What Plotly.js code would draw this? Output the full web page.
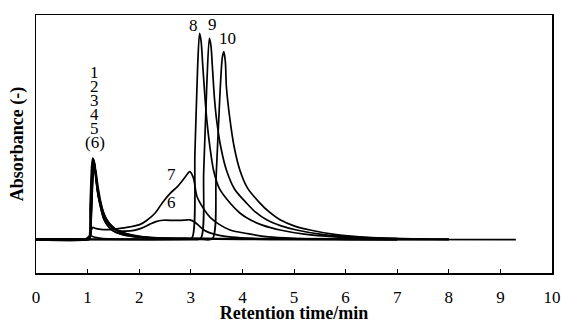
<!DOCTYPE html>
<html>
<head>
<meta charset="utf-8">
<script src="https://cdn.plot.ly/plotly-3.0.1.min.js"></script>
<style>html,body{margin:0;padding:0;background:#fff;}#chart{width:561px;height:323px;}</style>
</head>
<body>
<div id="chart"></div>
<script>
// Retention time (min) and absorbance (arbitrary, baseline = 0)
const x1 = [0, 0.95, 1.02, 1.05, 1.08, 1.10, 1.12, 1.15, 1.19, 1.24, 1.30, 1.36, 1.45, 1.55, 1.65, 1.8, 2.0, 2.3, 2.8, 4.0, 6.0, 9.3];
const y1 = [0, 0, 0.005, 0.18, 0.36, 0.395, 0.38, 0.32, 0.24, 0.18, 0.13, 0.10, 0.07, 0.05, 0.038, 0.026, 0.016, 0.009, 0.005, 0.003, 0.002, 0.001];
const x2 = [0, 0.95, 1.03, 1.06, 1.09, 1.11, 1.13, 1.16, 1.20, 1.25, 1.31, 1.37, 1.46, 1.56, 1.66, 1.8, 2.0, 2.3, 2.8, 4.0, 7.0];
const y2 = [0.003, 0.003, 0.006, 0.16, 0.35, 0.39, 0.375, 0.31, 0.23, 0.17, 0.12, 0.09, 0.063, 0.045, 0.033, 0.023, 0.015, 0.009, 0.006, 0.004, 0.003];
const x3 = [0, 0.95, 1.03, 1.06, 1.09, 1.11, 1.13, 1.16, 1.20, 1.25, 1.30, 1.36, 1.44, 1.54, 1.65, 1.8, 2.0, 2.3, 2.8, 4.0, 7.0];
const y3 = [0.005, 0.005, 0.007, 0.15, 0.34, 0.385, 0.37, 0.30, 0.22, 0.16, 0.11, 0.08, 0.055, 0.038, 0.028, 0.02, 0.013, 0.009, 0.007, 0.006, 0.005];
const x4 = [0, 0.95, 1.04, 1.07, 1.10, 1.12, 1.14, 1.17, 1.21, 1.26, 1.32, 1.38, 1.47, 1.57, 1.68, 1.85, 2.05, 2.4, 3.0, 4.5, 8.0];
const y4 = [0.001, 0.001, 0.004, 0.14, 0.33, 0.38, 0.365, 0.30, 0.23, 0.17, 0.125, 0.095, 0.068, 0.048, 0.036, 0.025, 0.016, 0.009, 0.005, 0.003, 0.001];
const x5 = [0, 0.95, 1.04, 1.07, 1.10, 1.12, 1.14, 1.17, 1.21, 1.26, 1.31, 1.37, 1.45, 1.55, 1.66, 1.8, 2.0, 2.3, 2.8, 4.0, 7.0];
const y5 = [0.004, 0.004, 0.006, 0.12, 0.31, 0.37, 0.355, 0.29, 0.21, 0.15, 0.105, 0.075, 0.052, 0.036, 0.027, 0.019, 0.013, 0.009, 0.007, 0.005, 0.004];
const x6 = [0, 0.95, 1.04, 1.07, 1.10, 1.13, 1.16, 1.20, 1.25, 1.31, 1.38, 1.47, 1.6, 1.75, 1.9, 2.05, 2.2, 2.31, 2.46, 2.7, 2.9, 2.98, 3.08, 3.18, 3.27, 3.37, 3.55, 3.8, 4.2, 5.0, 7.0];
const y6 = [0.002, 0.002, 0.005, 0.10, 0.28, 0.35, 0.33, 0.26, 0.19, 0.13, 0.09, 0.06, 0.045, 0.042, 0.046, 0.057, 0.075, 0.087, 0.095, 0.094, 0.096, 0.097, 0.085, 0.063, 0.045, 0.034, 0.022, 0.013, 0.007, 0.004, 0.002];
const x7 = [0, 0.95, 1.02, 1.06, 1.1, 1.15, 1.22, 1.3, 1.43, 1.63, 1.82, 2.02, 2.15, 2.31, 2.45, 2.6, 2.75, 2.88, 2.98, 3.05, 3.12, 3.25, 3.37, 3.55, 3.76, 4.1, 4.5, 5.0, 6.0, 7.0];
const y7 = [0, 0, 0.005, 0.04, 0.06, 0.056, 0.052, 0.05, 0.05, 0.056, 0.063, 0.075, 0.095, 0.13, 0.18, 0.225, 0.26, 0.30, 0.33, 0.30, 0.21, 0.15, 0.11, 0.075, 0.048, 0.03, 0.015, 0.008, 0.003, 0.001];
const x8 = [0, 0.95, 1.05, 1.15, 1.3, 2.9, 3.02, 3.08, 3.13, 3.17, 3.20, 3.23, 3.26, 3.31, 3.37, 3.44, 3.55, 3.76, 3.95, 4.15, 4.4, 4.73, 5.2, 5.8, 6.5, 8.0];
const y8 = [0.003, 0.003, 0.02, 0.012, 0.006, 0.006, 0.008, 0.42, 0.82, 0.998, 0.96, 0.85, 0.74, 0.58, 0.45, 0.338, 0.25, 0.178, 0.13, 0.097, 0.07, 0.048, 0.028, 0.015, 0.008, 0.003];
const x9 = [0, 3.0, 3.19, 3.25, 3.31, 3.36, 3.39, 3.42, 3.46, 3.50, 3.58, 3.69, 3.85, 4.08, 4.25, 4.47, 4.75, 5.05, 5.5, 6.2, 7.3, 8.0];
const y9 = [0.005, 0.005, 0.007, 0.33, 0.75, 0.974, 0.94, 0.83, 0.68, 0.58, 0.45, 0.338, 0.245, 0.178, 0.135, 0.097, 0.068, 0.048, 0.028, 0.013, 0.005, 0.004];
const x10 = [0, 3.2, 3.42, 3.49, 3.56, 3.61, 3.64, 3.67, 3.69, 3.76, 3.84, 3.95, 4.1, 4.34, 4.52, 4.73, 5.0, 5.31, 5.75, 6.4, 7.0];
const y10 = [0.002, 0.002, 0.006, 0.3, 0.68, 0.88, 0.91, 0.86, 0.74, 0.58, 0.45, 0.338, 0.25, 0.178, 0.135, 0.097, 0.068, 0.048, 0.028, 0.012, 0.006];

const xTicks = [0, 1, 2, 3, 4, 5, 6, 7, 8, 9, 10];
const peakLabels = ["1", "2", "3", "4", "5", "(6)", "7", "6", "8", "9", "10"];
const labelX = [1.14, 1.14, 1.14, 1.14, 1.14, 1.14, 2.63, 2.63, 3.06, 3.43, 3.72];
const labelY = [0.81, 0.74, 0.675, 0.605, 0.54, 0.47, 0.315, 0.18, 1.035, 1.04, 0.975];

const series = [[x1,y1],[x2,y2],[x3,y3],[x4,y4],[x5,y5],[x6,y6],[x7,y7],[x8,y8],[x9,y9],[x10,y10]];
const traces = series.map(s => ({
  x: s[0], y: s[1], type: 'scatter', mode: 'lines',
  line: {color: '#000', width: 1.7, shape: 'spline', smoothing: 0.8},
  hoverinfo: 'none', showlegend: false
}));

const font = {family: 'Liberation Serif, Times New Roman, serif', color: '#000'};
const annotations = peakLabels.map((t, i) => ({
  x: labelX[i], y: labelY[i], xref: 'x', yref: 'y', text: t, showarrow: false,
  font: Object.assign({}, font, {size: 17})
}));

Plotly.newPlot('chart', traces, {
  width: 561, height: 323,
  margin: {l: 36, r: 9, t: 15, b: 50},
  paper_bgcolor: '#fff', plot_bgcolor: '#fff',
  xaxis: {
    range: [0, 10], tickvals: xTicks, ticktext: xTicks.map(String),
    ticks: 'inside', ticklen: 4, tickwidth: 1, tickcolor: '#000',
    showline: true, linecolor: '#000', linewidth: 1.5, mirror: true,
    showgrid: false, zeroline: false, ticklabelstandoff: 8,
    tickfont: Object.assign({}, font, {size: 17}),
    title: {text: 'Retention time/min', standoff: 1, font: Object.assign({}, font, {size: 18, weight: 'bold'})}
  },
  yaxis: {
    range: [-0.16, 1.087], showticklabels: false, ticks: '',
    showline: true, linecolor: '#000', linewidth: 1.5, mirror: true,
    showgrid: false, zeroline: false,
    title: {text: 'Absorbance (-)', standoff: 6, font: Object.assign({}, font, {size: 18, weight: 'bold'})}
  },
  annotations: annotations
}, {staticPlot: true, displayModeBar: false});
</script>
</body>
</html>
